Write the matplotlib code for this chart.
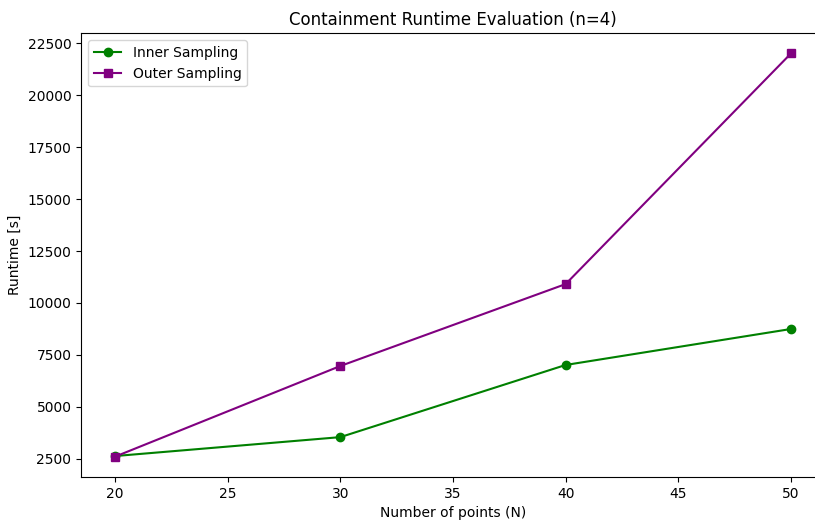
import matplotlib
matplotlib.use("Agg")
import matplotlib.pyplot as plt

n_points = [20, 30, 40, 50]
inner_runtime = [2640, 3550, 7020, 8750]
outer_runtime = [2610, 6970, 10910, 22000]

fig = plt.figure(figsize=(8.15, 5.2), dpi=100)
# the original is cropped on the right, so the axes run past the figure edge
ax = fig.add_axes([0.0996, 0.083, 0.9124, 0.853])
ax.plot(n_points, inner_runtime, marker="o", color="green", label="Inner Sampling")
ax.plot(n_points, outer_runtime, marker="s", color="purple", label="Outer Sampling")
ax.set_title("Containment Runtime Evaluation (n=4)")
ax.set_xlabel("Number of points (N)")
ax.set_ylabel("Runtime [s]")
ax.legend(loc="upper left")
fig.savefig("out.png", dpi=100)
